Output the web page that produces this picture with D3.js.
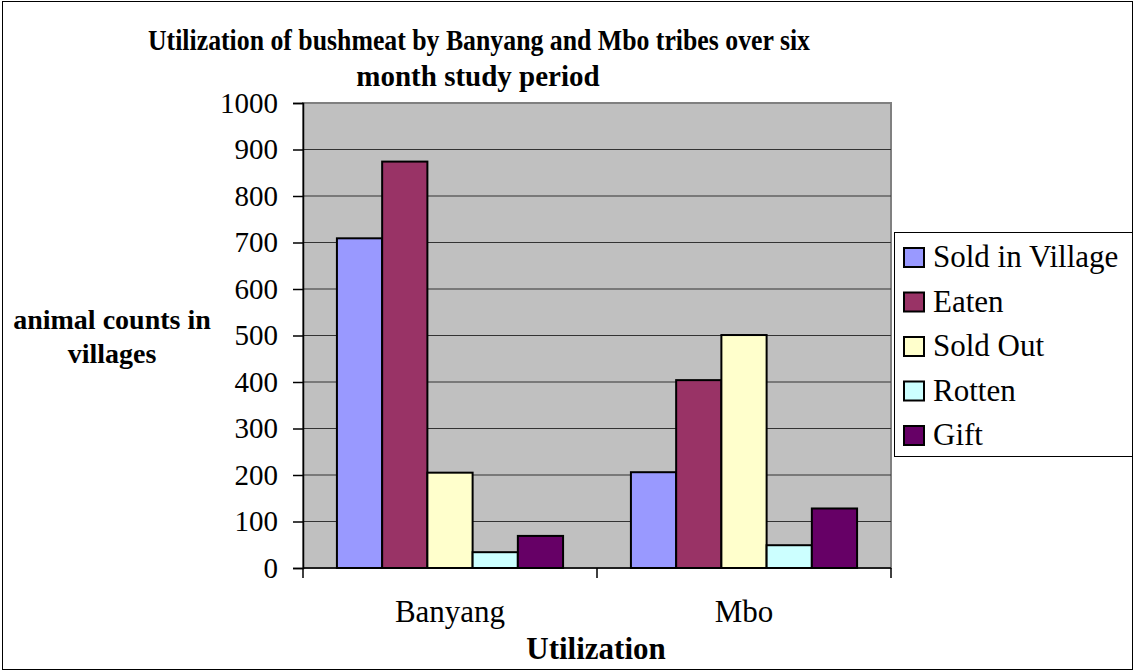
<!DOCTYPE html>
<html>
<head>
<meta charset="utf-8">
<script src="https://cdn.jsdelivr.net/npm/d3@7"></script>
<style>
  body { margin: 0; background: #fff; }
  svg { display: block; font-family: "Liberation Serif", "Times New Roman", serif; }
</style>
</head>
<body>
<svg id="chart" width="1134" height="671"></svg>
<script>
// tribes on the x axis
const tribes = ["Banyang", "Mbo"];
// one value per tribe
const soldInVillage = [709, 206];
const eaten = [874, 404];
const soldOut = [205, 501];
const rotten = [34, 49];
const gift = [69, 128];
const seriesNames = ["Sold in Village", "Eaten", "Sold Out", "Rotten", "Gift"];
const seriesColors = ["#9999ff", "#993366", "#ffffcc", "#ccffff", "#660066"];
const yTicks = [0, 100, 200, 300, 400, 500, 600, 700, 800, 900, 1000];

const series = [soldInVillage, eaten, soldOut, rotten, gift];

const svg = d3.select("#chart");
const plot = { left: 303, right: 891, top: 103, bottom: 568 };

// outer chart border
svg.append("rect")
  .attr("x", 2.5).attr("y", 1.5).attr("width", 1130).attr("height", 668)
  .attr("fill", "#fff").attr("stroke", "#000").attr("stroke-width", 1);

const x0 = d3.scaleBand().domain(tribes).range([plot.left, plot.right]);
// excel gap width 150%: 5 bars plus 1.5 bar of gap per category
const x1 = d3.scaleBand().domain(seriesNames)
  .range([0, x0.bandwidth()]).paddingInner(0).paddingOuter(0.75);
const y = d3.scaleLinear().domain([0, 1000]).range([plot.bottom, plot.top]);

// plot background
svg.append("rect")
  .attr("x", plot.left).attr("y", plot.top)
  .attr("width", plot.right - plot.left).attr("height", plot.bottom - plot.top)
  .attr("fill", "#c0c0c0").attr("stroke", "#808080").attr("stroke-width", 2);

// gridlines
svg.append("g").selectAll("line").data(yTicks.filter(d => d > 0 && d < 1000)).join("line")
  .attr("x1", plot.left).attr("x2", plot.right)
  .attr("y1", d => y(d)).attr("y2", d => y(d))
  .attr("stroke", "#333").attr("stroke-width", 1.2);

// bars
const groups = svg.append("g").selectAll("g").data(tribes).join("g")
  .attr("transform", d => `translate(${x0(d)},0)`);
groups.selectAll("rect")
  .data((t, i) => seriesNames.map((s, j) => ({ s, v: series[j][i], c: seriesColors[j] })))
  .join("rect")
  .attr("x", d => x1(d.s))
  .attr("width", x1.bandwidth())
  .attr("y", d => y(d.v))
  .attr("height", d => y(0) - y(d.v))
  .attr("fill", d => d.c)
  .attr("stroke", "#000").attr("stroke-width", 2);

// y axis
const yAxis = d3.axisLeft(y).tickValues(yTicks).tickFormat(d3.format("d")).tickSize(10).tickPadding(15);
const gy = svg.append("g").attr("transform", `translate(${plot.left},0)`).call(yAxis);
gy.select(".domain").attr("stroke", "#000").attr("stroke-width", 1.5);
gy.selectAll(".tick line").attr("stroke", "#000").attr("stroke-width", 1.5);
gy.selectAll(".tick text").attr("font-size", 29).attr("font-family", "Liberation Serif").attr("fill", "#000");

// x axis
const gx = svg.append("g").attr("transform", `translate(0,${plot.bottom})`);
gx.append("line").attr("x1", plot.left).attr("x2", plot.right)
  .attr("stroke", "#000").attr("stroke-width", 1.5);
gx.selectAll(".xt").data([plot.left, plot.left + x0.bandwidth(), plot.right]).join("line")
  .attr("x1", d => d).attr("x2", d => d).attr("y1", 0).attr("y2", 10)
  .attr("stroke", "#000").attr("stroke-width", 1.5);
gx.selectAll("text").data(tribes).join("text")
  .attr("x", d => x0(d) + x0.bandwidth() / 2).attr("y", 54)
  .attr("text-anchor", "middle").attr("font-size", 31).text(d => d);

// titles
svg.append("text").attr("x", 479).attr("y", 50).attr("text-anchor", "middle")
  .attr("font-weight", "bold").attr("font-size", 29)
  .attr("textLength", 662).attr("lengthAdjust", "spacingAndGlyphs")
  .text("Utilization of bushmeat by Banyang and Mbo tribes over six");
svg.append("text").attr("x", 478).attr("y", 86).attr("text-anchor", "middle")
  .attr("font-weight", "bold").attr("font-size", 29)
  .text("month study period");
svg.append("text").attr("x", 596).attr("y", 659).attr("text-anchor", "middle")
  .attr("font-weight", "bold").attr("font-size", 31).text("Utilization");
svg.append("text").attr("x", 112).attr("y", 329).attr("text-anchor", "middle")
  .attr("font-weight", "bold").attr("font-size", 28).text("animal counts in");
svg.append("text").attr("x", 112).attr("y", 363).attr("text-anchor", "middle")
  .attr("font-weight", "bold").attr("font-size", 28).text("villages");

// legend
const lg = svg.append("g");
lg.append("rect").attr("x", 894.5).attr("y", 232.5).attr("width", 238).attr("height", 224)
  .attr("fill", "#fff").attr("stroke", "#000").attr("stroke-width", 1);
const items = lg.selectAll("g").data(seriesNames).join("g")
  .attr("transform", (d, i) => `translate(904,${267 + i * 44.5})`);
items.append("rect").attr("x", 0).attr("y", -19).attr("width", 20).attr("height", 19)
  .attr("fill", (d, i) => seriesColors[i]).attr("stroke", "#000").attr("stroke-width", 2);
items.append("text").attr("x", 29).attr("y", 0).attr("font-size", 31).text(d => d);
</script>
</body>
</html>
